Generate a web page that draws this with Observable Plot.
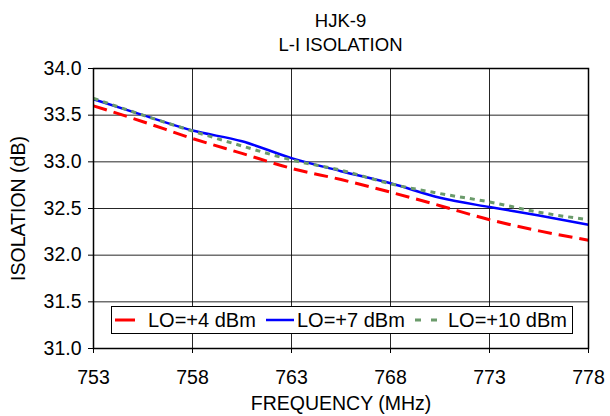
<!DOCTYPE html>
<html>
<head>
<meta charset="utf-8">
<script src="https://cdn.jsdelivr.net/npm/d3@7"></script>
<script src="https://cdn.jsdelivr.net/npm/@observablehq/plot@0.6"></script>
<style>
  body { margin: 0; background: #fff; font-family: "Liberation Sans", Arial, sans-serif; }
  #wrap { position: relative; width: 610px; height: 416px; }
  #title { position: absolute; left: 93px; width: 495px; top: 9px; text-align: center; font-size: 18.5px; line-height: 24px; color: #000; }
  #chart { position: absolute; left: 0; top: 56px; }
  #legend { position: absolute; left: 111px; top: 306px; width: 460px; height: 26px; border: 1px solid #000; background: #fff; font-size: 20px; }
  #legend .sw { position: absolute; top: 0; }
  #legend .lab { position: absolute; top: 2px; line-height: 22px; white-space: nowrap; }
</style>
</head>
<body>
<div id="wrap">
  <div id="title">HJK-9<br>L-I ISOLATION</div>
  <div id="chart"></div>
  <div id="legend"></div>
</div>
<script>
// Data
const freq = [753, 755.5, 758, 760.5, 763, 765.5, 768, 770.5, 773, 775.5, 778];
const lo4  = [33.60, 33.43, 33.25, 33.09, 32.93, 32.81, 32.675, 32.53, 32.38, 32.26, 32.16];
const lo7  = [33.67, 33.50, 33.335, 33.22, 33.04, 32.90, 32.77, 32.615, 32.515, 32.425, 32.325];
const lo10 = [33.68, 33.50, 33.33, 33.17, 33.02, 32.91, 32.765, 32.66, 32.57, 32.46, 32.38];
const seriesNames = ["LO=+4 dBm", "LO=+7 dBm", "LO=+10 dBm"];
const xTicks = [753, 758, 763, 768, 773, 778];
const yTicks = [31.0, 31.5, 32.0, 32.5, 33.0, 33.5, 34.0];

const styles = [
  {color: "#ff0000", width: 3, dash: "14,7"},
  {color: "#0000ff", width: 2.5, dash: null},
  {color: "#6b9b6b", width: 3, dash: "5,5"}
];
const seriesValues = [lo4, lo7, lo10];
const tables = seriesValues.map((vals, i) => freq.map((f, j) => ({f, v: vals[j], s: seriesNames[i]})));

const drawOrder = [0, 1, 2];
const lines = drawOrder.map(i => Plot.line(tables[i], {
  x: "f", y: "v", stroke: styles[i].color, strokeWidth: styles[i].width,
  strokeDasharray: styles[i].dash || undefined, curve: "monotone-x", strokeLinecap: "butt"
}));

const chart = Plot.plot({
  width: 610,
  height: 360,
  marginTop: 12,
  marginLeft: 93,
  marginRight: 22,
  marginBottom: 68,
  style: {fontFamily: "'Liberation Sans', Arial, sans-serif", fontSize: "19.5px", color: "#000", background: "#fff"},
  x: {domain: [753, 778], ticks: xTicks, tickFormat: d => String(d), label: "FREQUENCY (MHz)", labelAnchor: "center", labelArrow: "none"},
  y: {domain: [31, 34], ticks: yTicks, tickFormat: d3.format(".1f"), label: "ISOLATION (dB)", labelAnchor: "center", labelArrow: "none"},
  marks: [
    Plot.gridX(xTicks, {stroke: "#000", strokeOpacity: 0.85, strokeWidth: 1}),
    Plot.gridY(yTicks, {stroke: "#000", strokeOpacity: 0.85, strokeWidth: 1}),
    ...lines,
    Plot.frame({stroke: "#000", strokeWidth: 1.5}),
    Plot.axisX({ticks: xTicks, tickFormat: d => String(d), tickSize: 5, tickPadding: 17, label: "FREQUENCY (MHz)", labelAnchor: "center", labelOffset: 61, labelArrow: "none", fontSize: 19.5}),
    Plot.axisY({ticks: yTicks, tickFormat: d3.format(".1f"), tickSize: 5, tickPadding: 7, label: "ISOLATION (dB)", labelAnchor: "center", labelOffset: 82, labelArrow: "none", fontSize: 19.5})
  ]
});
document.getElementById("chart").appendChild(chart);

// Legend
const legend = document.getElementById("legend");
const legendItems = [
  {sw: 3, swW: 20, lab: 36},
  {sw: 154, swW: 28, lab: 185},
  {sw: 303, swW: 24, lab: 336}
];
legendItems.forEach((it, i) => {
  const st = styles[i];
  const svg = d3.create("svg").attr("class", "sw").attr("width", it.swW + 4).attr("height", 26)
    .style("left", it.sw + "px");
  svg.append("line").attr("x1", 0).attr("x2", it.swW).attr("y1", 13).attr("y2", 13)
    .attr("stroke", st.color).attr("stroke-width", st.width)
    .attr("stroke-dasharray", i === 2 ? "6,10" : (i === 0 ? "20,7" : null));
  legend.appendChild(svg.node());
  const lab = document.createElement("div");
  lab.className = "lab";
  lab.style.left = it.lab + "px";
  lab.textContent = seriesNames[i];
  legend.appendChild(lab);
});
</script>
</body>
</html>
